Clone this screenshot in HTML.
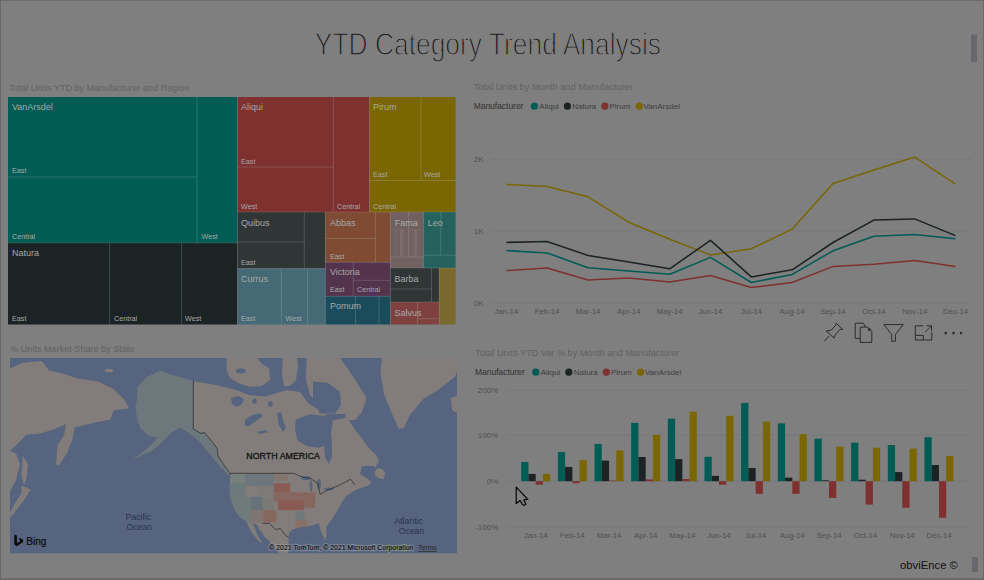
<!DOCTYPE html><html><head><meta charset="utf-8"><style>
html,body{margin:0;padding:0;width:984px;height:580px;overflow:hidden;background:#7f7f7f}
svg{position:absolute;left:0;top:0}
text{font-family:"Liberation Sans", sans-serif}
</style></head><body>
<svg width="984" height="580" viewBox="0 0 984 580">
<rect x="0" y="0" width="984" height="580" fill="#7f7f7f"/>

<rect x="0" y="0" width="984" height="1" fill="#6b6b6b"/>
<rect x="0" y="0" width="1" height="580" fill="#66686b"/>
<rect x="983" y="0" width="1" height="580" fill="#6b6b6b"/>
<rect x="0" y="578" width="984" height="2" fill="#6b6b6b"/>
<rect x="971" y="34.5" width="6" height="27.5" fill="#66686c"/>
<rect x="972" y="557" width="6" height="15" fill="#66686c"/>
<text x="314.8" y="55.4" font-size="31.8" fill="#141414" stroke="#7f7f7f" stroke-width="1.35" transform="translate(314.8 0) scale(0.83 1) translate(-314.8 0)">YTD Category Trend Analysis</text>
<text x="9" y="90.5" font-size="9.1" fill="#626262">Total Units YTD by Manufacturer and Region</text>
<text x="473.7" y="89.9" font-size="9.27" fill="#626262">Total Units by Month and Manufacturer</text>
<text x="10.2" y="351.5" font-size="9.1" fill="#626262">% Units Market Share by State</text>
<text x="475.1" y="356" font-size="9.14" fill="#626262">Total Units YTD Var % by Month and Manufacturer</text>
<g><rect x="8" y="97" width="229.50" height="146.00" fill="#005c55"/><line x1="197" y1="97" x2="197" y2="243" stroke="rgba(200,220,220,0.22)" stroke-width="0.9"/><line x1="8" y1="177" x2="197" y2="177" stroke="rgba(200,220,220,0.22)" stroke-width="0.9"/><rect x="8" y="243" width="229.50" height="81.50" fill="#1c2324"/><line x1="109.5" y1="243" x2="109.5" y2="324.5" stroke="rgba(200,220,220,0.22)" stroke-width="0.9"/><line x1="181.5" y1="243" x2="181.5" y2="324.5" stroke="rgba(200,220,220,0.22)" stroke-width="0.9"/><rect x="237.5" y="97" width="132.00" height="115.00" fill="#7e312f"/><line x1="333.3" y1="97" x2="333.3" y2="212" stroke="rgba(200,220,220,0.22)" stroke-width="0.9"/><line x1="237.5" y1="167" x2="333.3" y2="167" stroke="rgba(200,220,220,0.22)" stroke-width="0.9"/><rect x="369.5" y="97" width="86.10" height="115.00" fill="#7b6604"/><line x1="421" y1="97" x2="421" y2="180.5" stroke="rgba(200,220,220,0.22)" stroke-width="0.9"/><line x1="369.5" y1="180.5" x2="455.6" y2="180.5" stroke="rgba(200,220,220,0.22)" stroke-width="0.9"/><rect x="237.5" y="212" width="87.90" height="56.60" fill="#303636"/><line x1="304.3" y1="212" x2="304.3" y2="268.6" stroke="rgba(200,220,220,0.22)" stroke-width="0.9"/><line x1="237.5" y1="242" x2="304.3" y2="242" stroke="rgba(200,220,220,0.22)" stroke-width="0.9"/><rect x="237.5" y="268.6" width="87.90" height="55.90" fill="#456a76"/><line x1="281.4" y1="268.6" x2="281.4" y2="324.5" stroke="rgba(200,220,220,0.22)" stroke-width="0.9"/><line x1="307.6" y1="268.6" x2="307.6" y2="324.5" stroke="rgba(200,220,220,0.22)" stroke-width="0.9"/><rect x="325.4" y="212" width="65.00" height="50.30" fill="#7f4b33"/><line x1="375.4" y1="212" x2="375.4" y2="262.3" stroke="rgba(200,220,220,0.22)" stroke-width="0.9"/><line x1="325.4" y1="238.4" x2="375.4" y2="238.4" stroke="rgba(200,220,220,0.22)" stroke-width="0.9"/><rect x="325.4" y="262.3" width="65.00" height="33.90" fill="#53344c"/><line x1="353.2" y1="262.3" x2="353.2" y2="296.2" stroke="rgba(200,220,220,0.22)" stroke-width="0.9"/><line x1="353.2" y1="280.3" x2="390.4" y2="280.3" stroke="rgba(200,220,220,0.22)" stroke-width="0.9"/><rect x="325.4" y="296.2" width="65.00" height="28.30" fill="#1a4c5c"/><line x1="355.5" y1="296.2" x2="355.5" y2="324.5" stroke="rgba(200,220,220,0.22)" stroke-width="0.9"/><line x1="379" y1="296.2" x2="379" y2="324.5" stroke="rgba(200,220,220,0.22)" stroke-width="0.9"/><rect x="390.4" y="212" width="33.20" height="56.00" fill="#706060"/><line x1="408.7" y1="212" x2="408.7" y2="257.1" stroke="rgba(200,220,220,0.22)" stroke-width="0.9"/><line x1="390.4" y1="257.1" x2="423.6" y2="257.1" stroke="rgba(200,220,220,0.22)" stroke-width="0.9"/><rect x="399.9" y="229.7" width="3.6" height="26.3" fill="rgba(210,200,200,0.10)"/><rect x="413.9" y="229.7" width="3.1" height="26.3" fill="rgba(210,200,200,0.10)"/><line x1="396" y1="230" x2="396" y2="257.1" stroke="rgba(200,200,200,0.12)" stroke-width="0.6"/><line x1="401" y1="230" x2="401" y2="257.1" stroke="rgba(200,200,200,0.12)" stroke-width="0.6"/><line x1="404" y1="230" x2="404" y2="257.1" stroke="rgba(200,200,200,0.12)" stroke-width="0.6"/><line x1="412" y1="230" x2="412" y2="257.1" stroke="rgba(200,200,200,0.12)" stroke-width="0.6"/><line x1="416" y1="230" x2="416" y2="257.1" stroke="rgba(200,200,200,0.12)" stroke-width="0.6"/><line x1="419" y1="230" x2="419" y2="257.1" stroke="rgba(200,200,200,0.12)" stroke-width="0.6"/><line x1="390.4" y1="230" x2="423.6" y2="230" stroke="rgba(200,200,200,0.12)" stroke-width="0.6"/><line x1="390.4" y1="263" x2="423.6" y2="263" stroke="rgba(200,200,200,0.12)" stroke-width="0.6"/><rect x="423.6" y="212" width="32.00" height="56.00" fill="#25625e"/><line x1="440.8" y1="212" x2="440.8" y2="255.2" stroke="rgba(200,220,220,0.22)" stroke-width="0.9"/><line x1="423.6" y1="255.2" x2="455.6" y2="255.2" stroke="rgba(200,220,220,0.22)" stroke-width="0.9"/><rect x="390.4" y="268" width="48.80" height="34.00" fill="#303636"/><line x1="431.5" y1="268" x2="431.5" y2="302" stroke="rgba(200,220,220,0.22)" stroke-width="0.9"/><line x1="390.4" y1="289" x2="431.5" y2="289" stroke="rgba(200,220,220,0.22)" stroke-width="0.9"/><rect x="390.4" y="302" width="48.80" height="22.50" fill="#7e4140"/><line x1="417.5" y1="302" x2="417.5" y2="324.5" stroke="rgba(200,220,220,0.22)" stroke-width="0.9"/><line x1="417.5" y1="318.8" x2="439.2" y2="318.8" stroke="rgba(200,220,220,0.22)" stroke-width="0.9"/><rect x="439.2" y="268" width="16.40" height="56.50" fill="#7a692d"/><line x1="8" y1="243" x2="237.5" y2="243" stroke="rgba(200,200,200,0.2)" stroke-width="0.9"/><line x1="237.5" y1="97" x2="237.5" y2="324.5" stroke="rgba(200,200,200,0.2)" stroke-width="0.9"/><line x1="369.5" y1="97" x2="369.5" y2="212" stroke="rgba(200,200,200,0.2)" stroke-width="0.9"/><line x1="237.5" y1="212" x2="455.6" y2="212" stroke="rgba(200,200,200,0.2)" stroke-width="0.9"/><line x1="325.4" y1="212" x2="325.4" y2="324.5" stroke="rgba(200,200,200,0.2)" stroke-width="0.9"/><line x1="237.5" y1="268.6" x2="325.4" y2="268.6" stroke="rgba(200,200,200,0.2)" stroke-width="0.9"/><line x1="325.4" y1="262.3" x2="390.4" y2="262.3" stroke="rgba(200,200,200,0.2)" stroke-width="0.9"/><line x1="325.4" y1="296.2" x2="390.4" y2="296.2" stroke="rgba(200,200,200,0.2)" stroke-width="0.9"/><line x1="390.4" y1="212" x2="390.4" y2="324.5" stroke="rgba(200,200,200,0.2)" stroke-width="0.9"/><line x1="423.6" y1="212" x2="423.6" y2="268" stroke="rgba(200,200,200,0.2)" stroke-width="0.9"/><line x1="390.4" y1="268" x2="455.6" y2="268" stroke="rgba(200,200,200,0.2)" stroke-width="0.9"/><line x1="390.4" y1="302" x2="439.2" y2="302" stroke="rgba(200,200,200,0.2)" stroke-width="0.9"/><line x1="439.2" y1="268" x2="439.2" y2="324.5" stroke="rgba(200,200,200,0.2)" stroke-width="0.9"/><text x="12" y="110" font-size="9" fill="#a8a8a8">VanArsdel</text><text x="12" y="173" font-size="7.2" fill="#a8a8a8">East</text><text x="12" y="239" font-size="7.2" fill="#a8a8a8">Central</text><text x="201.5" y="239" font-size="7.2" fill="#a8a8a8">West</text><text x="12" y="256" font-size="9" fill="#a8a8a8">Natura</text><text x="12" y="321" font-size="7.2" fill="#a8a8a8">East</text><text x="114" y="321" font-size="7.2" fill="#a8a8a8">Central</text><text x="185" y="321" font-size="7.2" fill="#a8a8a8">West</text><text x="241" y="110" font-size="9" fill="#a8a8a8">Aliqui</text><text x="241" y="163.5" font-size="7.2" fill="#a8a8a8">East</text><text x="241" y="208.5" font-size="7.2" fill="#a8a8a8">West</text><text x="337" y="208.5" font-size="7.2" fill="#a8a8a8">Central</text><text x="373" y="110" font-size="9" fill="#a8a8a8">Pirum</text><text x="373" y="176.5" font-size="7.2" fill="#a8a8a8">East</text><text x="424" y="176.5" font-size="7.2" fill="#a8a8a8">West</text><text x="373" y="208.5" font-size="7.2" fill="#a8a8a8">Central</text><text x="241" y="225.5" font-size="9" fill="#a8a8a8">Quibus</text><text x="241" y="264.5" font-size="7.2" fill="#a8a8a8">East</text><text x="241" y="281.5" font-size="9" fill="#a8a8a8">Currus</text><text x="241" y="321" font-size="7.2" fill="#a8a8a8">East</text><text x="285.6" y="321" font-size="7.2" fill="#a8a8a8">West</text><text x="330" y="225.5" font-size="9" fill="#a8a8a8">Abbas</text><text x="330" y="258.5" font-size="7.2" fill="#a8a8a8">East</text><text x="330" y="274.5" font-size="9" fill="#a8a8a8">Victoria</text><text x="330" y="292" font-size="7.2" fill="#a8a8a8">East</text><text x="357" y="292" font-size="7.2" fill="#a8a8a8">Central</text><text x="330" y="309" font-size="9" fill="#a8a8a8">Pomum</text><text x="394.8" y="225.5" font-size="9" fill="#a8a8a8">Fama</text><text x="427.8" y="225.5" font-size="9" fill="#a8a8a8">Leo</text><text x="394.5" y="281.5" font-size="9" fill="#a8a8a8">Barba</text><text x="394.5" y="315.5" font-size="9" fill="#a8a8a8">Salvus</text></g>
<g><line x1="491" y1="159.2" x2="971.7" y2="159.2" stroke="#76787c" stroke-width="1"/><text x="473.7" y="162.1" font-size="8" fill="#505050">2K</text><line x1="491" y1="230.9" x2="971.7" y2="230.9" stroke="#76787c" stroke-width="1"/><text x="473.7" y="233.8" font-size="8" fill="#505050">1K</text><line x1="491" y1="302.9" x2="971.7" y2="302.9" stroke="#76787c" stroke-width="1"/><text x="473.7" y="305.79999999999995" font-size="8" fill="#505050">0K</text><text x="506.3" y="313.6" font-size="7.8" fill="#505050" text-anchor="middle">Jan-14</text><text x="547.1" y="313.6" font-size="7.8" fill="#505050" text-anchor="middle">Feb-14</text><text x="588.0" y="313.6" font-size="7.8" fill="#505050" text-anchor="middle">Mar-14</text><text x="628.8" y="313.6" font-size="7.8" fill="#505050" text-anchor="middle">Apr-14</text><text x="669.7" y="313.6" font-size="7.8" fill="#505050" text-anchor="middle">May-14</text><text x="710.5" y="313.6" font-size="7.8" fill="#505050" text-anchor="middle">Jun-14</text><text x="751.3" y="313.6" font-size="7.8" fill="#505050" text-anchor="middle">Jul-14</text><text x="792.2" y="313.6" font-size="7.8" fill="#505050" text-anchor="middle">Aug-14</text><text x="833.0" y="313.6" font-size="7.8" fill="#505050" text-anchor="middle">Sep-14</text><text x="873.9" y="313.6" font-size="7.8" fill="#505050" text-anchor="middle">Oct-14</text><text x="914.7" y="313.6" font-size="7.8" fill="#505050" text-anchor="middle">Nov-14</text><text x="955.5" y="313.6" font-size="7.8" fill="#505050" text-anchor="middle">Dec-14</text><polyline points="506.3,270.6 547.1,268.1 588.0,279.9 628.8,278 669.7,282.1 710.5,275.4 751.3,287.5 792.2,282.5 833.0,266.4 873.9,264.2 914.7,260.5 955.5,266.4" fill="none" stroke="#7e312f" stroke-width="1.55" stroke-linejoin="round"/><polyline points="506.3,250.5 547.1,252.9 588.0,267.8 628.8,271 669.7,274.3 710.5,257.4 751.3,282.5 792.2,274.4 833.0,250.8 873.9,236.2 914.7,234.4 955.5,238.7" fill="none" stroke="#005c55" stroke-width="1.55" stroke-linejoin="round"/><polyline points="506.3,184.4 547.1,186.5 588.0,196.8 628.8,222.2 669.7,239.3 710.5,254.9 751.3,248.7 792.2,229.1 833.0,183.5 873.9,170.1 914.7,157.1 955.5,184.1" fill="none" stroke="#7b6604" stroke-width="1.55" stroke-linejoin="round"/><polyline points="506.3,242.4 547.1,241.5 588.0,255.4 628.8,262 669.7,268.8 710.5,240.3 751.3,276.9 792.2,269.8 833.0,242.5 873.9,220.1 914.7,218.9 955.5,235.6" fill="none" stroke="#1c2324" stroke-width="1.55" stroke-linejoin="round"/><text x="473.7" y="109.10000000000001" font-size="8.45" fill="#3a3a3a" stroke="#3a3a3a" stroke-width="0.12">Manufacturer</text><circle cx="534.4" cy="106.2" r="3.6" fill="#005c55"/><text x="539.3" y="109.10000000000001" font-size="8" fill="#3e3e3e">Aliqui</text><circle cx="567.4" cy="106.2" r="3.6" fill="#1c2324"/><text x="572.3" y="109.10000000000001" font-size="8" fill="#3e3e3e">Natura</text><circle cx="604.9" cy="106.2" r="3.6" fill="#7e312f"/><text x="609.5" y="109.10000000000001" font-size="8" fill="#3e3e3e">Pirum</text><circle cx="639.25" cy="106.2" r="3.6" fill="#7b6604"/><text x="643.6" y="109.10000000000001" font-size="8" fill="#3e3e3e">VanArsdel</text></g>
<g fill="none" stroke="#2c2c2c" stroke-width="1.0" stroke-linejoin="miter">
<path d="M836.2,323.2 L842.6,329.3 L840.1,329.3 L835.6,334.2 L834.3,338.1 L826.1,331.1 L831.3,330.2 L835.6,325.3 Z"/>
<path d="M829.2,336 L824,341.5"/>
<path d="M860.2,338.4 H855.2 V323.2 H863.3 L865.7,327.1"/>
<path d="M860.2,327.1 H867.6 L871.8,331.4 V342.4 H860.2 Z"/>
<path d="M883.9,324.6 H903.2 L895.4,334.5 V341.3 H891.7 V334.5 Z"/>
<path d="M923,325.8 H915.3 V340 H931.8 V332"/>
<path d="M915.3,335.4 H923.3 V340"/>
<path d="M925.1,332.2 L931.5,325.8 M926.5,325.8 H931.5 V330.8"/>
</g>
<rect x="867.8" y="328.2" width="2.8" height="2.8" fill="#2c2c2c" opacity="0.8"/>
<circle cx="945.7" cy="333.1" r="1.3" fill="#2c2c2c"/>
<circle cx="953.5" cy="333.1" r="1.3" fill="#2c2c2c"/>
<circle cx="961.1" cy="333.1" r="1.3" fill="#2c2c2c"/>

<g><line x1="506.6" y1="390.3" x2="967.4" y2="390.3" stroke="#76787c" stroke-width="1"/><text x="498.3" y="393.2" font-size="8" fill="#505050" text-anchor="end">200%</text><line x1="506.6" y1="435.0" x2="967.4" y2="435.0" stroke="#76787c" stroke-width="1"/><text x="498.3" y="437.9" font-size="8" fill="#505050" text-anchor="end">100%</text><line x1="506.6" y1="481.2" x2="967.4" y2="481.2" stroke="#76787c" stroke-width="1"/><text x="498.3" y="484.09999999999997" font-size="8" fill="#505050" text-anchor="end">0%</text><line x1="506.6" y1="526.9" x2="967.4" y2="526.9" stroke="#76787c" stroke-width="1"/><text x="498.3" y="529.8" font-size="8" fill="#505050" text-anchor="end">-100%</text><text x="535.7" y="537.6" font-size="7.8" fill="#505050" text-anchor="middle">Jan-14</text><text x="572.4" y="537.6" font-size="7.8" fill="#505050" text-anchor="middle">Feb-14</text><text x="609.0" y="537.6" font-size="7.8" fill="#505050" text-anchor="middle">Mar-14</text><text x="645.7" y="537.6" font-size="7.8" fill="#505050" text-anchor="middle">Apr-14</text><text x="682.3" y="537.6" font-size="7.8" fill="#505050" text-anchor="middle">May-14</text><text x="719.0" y="537.6" font-size="7.8" fill="#505050" text-anchor="middle">Jun-14</text><text x="755.7" y="537.6" font-size="7.8" fill="#505050" text-anchor="middle">Jul-14</text><text x="792.3" y="537.6" font-size="7.8" fill="#505050" text-anchor="middle">Aug-14</text><text x="829.0" y="537.6" font-size="7.8" fill="#505050" text-anchor="middle">Sep-14</text><text x="865.6" y="537.6" font-size="7.8" fill="#505050" text-anchor="middle">Oct-14</text><text x="902.3" y="537.6" font-size="7.8" fill="#505050" text-anchor="middle">Nov-14</text><text x="939.0" y="537.6" font-size="7.8" fill="#505050" text-anchor="middle">Dec-14</text><rect x="521.20" y="462.00" width="7.25" height="19.20" fill="#005c55"/><rect x="557.86" y="452.10" width="7.25" height="29.10" fill="#005c55"/><rect x="594.52" y="443.90" width="7.25" height="37.30" fill="#005c55"/><rect x="631.18" y="422.90" width="7.25" height="58.30" fill="#005c55"/><rect x="667.84" y="418.60" width="7.25" height="62.60" fill="#005c55"/><rect x="704.50" y="456.80" width="7.25" height="24.40" fill="#005c55"/><rect x="741.16" y="402.90" width="7.25" height="78.30" fill="#005c55"/><rect x="777.82" y="423.40" width="7.25" height="57.80" fill="#005c55"/><rect x="814.48" y="438.60" width="7.25" height="42.60" fill="#005c55"/><rect x="851.14" y="442.70" width="7.25" height="38.50" fill="#005c55"/><rect x="887.80" y="445.10" width="7.25" height="36.10" fill="#005c55"/><rect x="924.46" y="437.20" width="7.25" height="44.00" fill="#005c55"/><rect x="528.45" y="473.90" width="7.25" height="7.30" fill="#1c2324"/><rect x="565.11" y="466.90" width="7.25" height="14.30" fill="#1c2324"/><rect x="601.77" y="460.60" width="7.25" height="20.60" fill="#1c2324"/><rect x="638.43" y="457.00" width="7.25" height="24.20" fill="#1c2324"/><rect x="675.09" y="459.10" width="7.25" height="22.10" fill="#1c2324"/><rect x="711.75" y="475.90" width="7.25" height="5.30" fill="#1c2324"/><rect x="748.41" y="468.00" width="7.25" height="13.20" fill="#1c2324"/><rect x="785.07" y="477.60" width="7.25" height="3.60" fill="#1c2324"/><rect x="821.73" y="480.30" width="7.25" height="0.90" fill="#1c2324"/><rect x="858.39" y="479.70" width="7.25" height="1.50" fill="#1c2324"/><rect x="895.05" y="472.10" width="7.25" height="9.10" fill="#1c2324"/><rect x="931.71" y="465.00" width="7.25" height="16.20" fill="#1c2324"/><rect x="535.70" y="481.20" width="7.25" height="3.50" fill="#7e312f"/><rect x="572.36" y="481.20" width="7.25" height="2.00" fill="#7e312f"/><rect x="609.02" y="480.50" width="7.25" height="0.70" fill="#7e312f"/><rect x="645.68" y="479.40" width="7.25" height="1.80" fill="#7e312f"/><rect x="682.34" y="479.00" width="7.25" height="2.20" fill="#7e312f"/><rect x="719.00" y="481.20" width="7.25" height="3.50" fill="#7e312f"/><rect x="755.66" y="481.20" width="7.25" height="12.60" fill="#7e312f"/><rect x="792.32" y="481.20" width="7.25" height="12.60" fill="#7e312f"/><rect x="828.98" y="481.20" width="7.25" height="16.70" fill="#7e312f"/><rect x="865.64" y="481.20" width="7.25" height="23.40" fill="#7e312f"/><rect x="902.30" y="481.20" width="7.25" height="26.60" fill="#7e312f"/><rect x="938.96" y="481.20" width="7.25" height="36.60" fill="#7e312f"/><rect x="542.95" y="473.90" width="7.25" height="7.30" fill="#7b6604"/><rect x="579.61" y="460.20" width="7.25" height="21.00" fill="#7b6604"/><rect x="616.27" y="450.40" width="7.25" height="30.80" fill="#7b6604"/><rect x="652.93" y="434.90" width="7.25" height="46.30" fill="#7b6604"/><rect x="689.59" y="411.70" width="7.25" height="69.50" fill="#7b6604"/><rect x="726.25" y="415.80" width="7.25" height="65.40" fill="#7b6604"/><rect x="762.91" y="421.60" width="7.25" height="59.60" fill="#7b6604"/><rect x="799.57" y="434.20" width="7.25" height="47.00" fill="#7b6604"/><rect x="836.23" y="446.60" width="7.25" height="34.60" fill="#7b6604"/><rect x="872.89" y="447.70" width="7.25" height="33.50" fill="#7b6604"/><rect x="909.55" y="448.60" width="7.25" height="32.60" fill="#7b6604"/><rect x="946.21" y="455.90" width="7.25" height="25.30" fill="#7b6604"/><text x="475.1" y="375.09999999999997" font-size="8.45" fill="#3a3a3a" stroke="#3a3a3a" stroke-width="0.12">Manufacturer</text><circle cx="535.8" cy="372.2" r="3.6" fill="#005c55"/><text x="540.7" y="375.09999999999997" font-size="8" fill="#3e3e3e">Aliqui</text><circle cx="568.8" cy="372.2" r="3.6" fill="#1c2324"/><text x="573.7" y="375.09999999999997" font-size="8" fill="#3e3e3e">Natura</text><circle cx="606.3" cy="372.2" r="3.6" fill="#7e312f"/><text x="610.9000000000001" y="375.09999999999997" font-size="8" fill="#3e3e3e">Pirum</text><circle cx="640.6500000000001" cy="372.2" r="3.6" fill="#7b6604"/><text x="645.0" y="375.09999999999997" font-size="8" fill="#3e3e3e">VanArsdel</text></g>
<path d="M516.2,487.2 L516.2,503.5 L520.1,500.5 L522.5,504.7 L524.3,505.3 L525.8,504.1 L523.7,499.9 L527.9,499.3 Z" fill="#7f7f7f" stroke="#000" stroke-width="1.15" stroke-linejoin="round"/>
<text x="900" y="568.5" font-size="11.3" fill="#111">obviEnce ©</text>
<g>
<defs><clipPath id="mc"><rect x="10" y="358" width="447" height="195.5"/></clipPath></defs>
<g clip-path="url(#mc)">
<rect x="10" y="358" width="447" height="195.5" fill="#56647f"/>
<g fill="#827d7a">
<!-- Russia -->
<path d="M10,368.5 L22.8,362.8 L41.7,360.9 L49.3,370.4 L63.8,373.7 L75.9,378 L98.7,381.7 L113.9,389.3 L125.2,400.7 L129,408.3 L113.9,410.2 L110.1,419.7 L100,421.4 L77.5,426.7 L74.9,426.7 L72.2,440.1 L66.8,453.5 L58.8,465.5 L56.1,464.2 L57.5,445.5 L64.2,434.8 L66,424 L53.5,429.4 L40.1,433.4 L26.7,434.8 L16,445.5 L9.9,450.8 L16,453.5 L20,464.2 L16,480.2 L10,491 Z"/>
<ellipse cx="109" cy="370.5" rx="4.5" ry="1.8"/>
<path d="M22.7,456 L28,464 L26.7,477.5 L24,485.6 L21.4,474.9 L22.5,464 Z"/>
<path d="M21.4,485.6 L30.7,489.6 L26.7,496.3 L18.7,507 L10.7,517.6 L10,512.3 L16,501.6 L21.4,493.6 Z"/>
<!-- NA mainland -->
<path d="M193.3,381 L206.5,383.5 L216,385 L236,390 L249,395 L265.5,396.4 L277,393 L286.7,390 L300,392 L308,403 L319,410 L335,409 L346,414 L350,422 L355,430 L361,437 L368,447 L376.9,455.9 L379,461.4 L375.5,466.9 L368,470 L364,476 L371.4,482 L368.6,485.5 L357.6,489 L346,496 L341.5,503 L337.5,510.5 L331.5,520 L326.4,526.4 L326.4,535 L325.5,539.6 L324.7,540 L320.8,531.1 L318.8,523.2 L312.8,525.2 L301,527.2 L293,529.2 L289,533.1 L288.8,537.6 L287.8,555 L280.6,555 L272.5,544.7 L264.4,536.6 L256.3,524.4 L252,523 L246.1,521.3 L240,517.3 L235.6,511.3 L230.6,499.4 L229.6,487.6 L230.6,475.7 L230.6,474.5 L224,465 L218,456 L217.4,449 L213.1,442.9 L204.5,432.6 L201,433.4 L193.3,429.1 Z"/>
<path d="M374.1,469.7 L380,468 L385.2,472 L384,479.3 L378,478 L375,475 Z"/>
<path d="M246.1,521.3 L252.2,533.5 L259.5,542 L262,543 L257,534 L254.5,527 L252,523 Z"/>
<!-- arctic islands -->
<path d="M226.6,358 L257,358 L262,364 L269,368 L270,380 L262,386 L250,387 L238,383 L230,378 L226.6,370 Z"/>
<path d="M282.7,358 L297,358 L298,366 L296,380 L290,386 L284,386 L282,375 Z"/>
<path d="M306.6,358 L340,358 L348,369 L356,381 L366.5,398 L362,412 L355,420 L340,420 L325,413 L310,395 L306,380 Z"/>

<!-- Greenland -->
<path d="M382,358 L457,358 L457,372 L454.8,377 L437,390.7 L423.3,398.9 L409.5,415.4 L404,427.7 L398.6,429.1 L396.1,423.1 L389.1,407.3 L383.8,393.2 L380.3,372.1 Z"/>
<path d="M451,398 L457,396 L457,413 L452,410 Z"/>
</g>
<g fill="#56647f">
<path d="M295.8,419.6 L309.9,414.3 L325.7,416.1 L332.8,421.3 L331,431.9 L332,445 L332,456 L329,464 L325,457 L324,446 L318.7,447.7 L306.4,446 L297.6,440.7 L295,430.1 Z"/>
<path d="M325,414 L346,414 L345,418 L330,421 Z"/>
<path d="M362,466 L374,466 L376,470 L372,476 L366,478 L360,474 Z"/>
<path d="M231,398 L238,396 L244,399 L242,404 L236,407 L232,404 Z"/>
<path d="M245,420 L252,415 L260,413 L263,416 L256,421 L249,426 L245,426 Z"/>
<path d="M257,432 L266,430 L268,432 L260,434 Z"/>
<path d="M277,413 L281,412 L283,420 L286,428 L283,432 L279,425 Z"/>
<path d="M252,400 L256,398 L257,403 L253,404 Z"/>
<path d="M268,402 L272,401 L273,406 L269,407 Z"/>
<ellipse cx="306" cy="478" rx="5" ry="2"/>
<ellipse cx="241" cy="371" rx="5" ry="2.5"/>
<path d="M313,381.5 L328,383 L340,392 L341,405 L335,413.4 L320,413.4 L313,400 Z"/>
<ellipse cx="311" cy="486" rx="1.5" ry="6"/>
<ellipse cx="319" cy="484" rx="2" ry="5"/>
<ellipse cx="329" cy="489" rx="5" ry="1.5"/>
</g>
<!-- Alaska (highlighted) -->
<path fill="#6c787c" d="M137.2,387.8 L145.9,377.4 L159.7,370.5 L171.7,374.8 L182.1,377.4 L193.3,380.9 L193.3,429.1 L201,433.4 L204.5,432.6 L213.1,442.9 L217.4,449 L218,456 L224,465 L230.6,474.5 L228,475 L220.8,467.4 L210.4,455.1 L199,440.9 L190,434 L180.3,427.4 L171.7,432.6 L161.4,442.9 L151,451.6 L142.4,455 L131.6,460 L140.9,453.2 L147.6,448.1 L157.9,437.8 L149.3,436 L140.7,429.1 L137.2,420.5 L135.5,406.7 L137.2,398.1 Z"/>
<clipPath id="us"><path d="M230.5,473.3 L293.3,473.3 L303,477.2 L310.4,478.4 L317.7,483.3 L320.1,494.3 L328.7,489.4 L338.4,485.7 L350.7,479.3 L354.8,484.8 L346,496 L341.5,503 L337.5,510.5 L331.5,520 L326.4,526.4 L318.8,523.2 L312.8,525.2 L301,527.2 L293,529.2 L288.8,537.6 L284.7,534.6 L280.6,528.5 L275.6,529.5 L269.5,523.4 L262.4,523.4 L246.1,521.3 L240,517.3 L235.6,511.3 L230.6,499.4 L229.6,487.6 L230.6,475.7 Z"/></clipPath>
<g clip-path="url(#us)">
<rect x="229.9" y="473.5" width="15.2" height="9.8" fill="#76807f"/>
<rect x="245.1" y="473.5" width="28.7" height="12.2" fill="#6c767c"/>
<rect x="273.8" y="473.5" width="14.6" height="7.4" fill="#83766e"/>
<rect x="273.8" y="483.3" width="16.4" height="9.1" fill="#8a5a55"/>
<rect x="230" y="483.3" width="15" height="14" fill="#6d7a7b"/>
<rect x="231" y="497" width="20" height="25" fill="#6f7b7b"/>
<rect x="257.9" y="485.7" width="15.9" height="11" fill="#7d7b7a"/>
<rect x="251.2" y="496.7" width="11.6" height="13.4" fill="#687378"/>
<rect x="262.8" y="497.9" width="11" height="12.2" fill="#7a7977"/>
<rect x="273.8" y="492.4" width="41.4" height="9.2" fill="#86665f"/>
<rect x="278" y="500.4" width="26.3" height="9.7" fill="#8a5a55"/>
<rect x="304.3" y="493" width="10.9" height="14.7" fill="#86665f"/>
<rect x="250.6" y="510.1" width="12.2" height="12.2" fill="#7f7572"/>
<rect x="263.4" y="510.1" width="12.8" height="12.2" fill="#86665f"/>
<rect x="295.7" y="511.3" width="8.6" height="8.6" fill="#6e7a7a"/>
<rect x="295.7" y="519.9" width="11" height="9.7" fill="#867068"/>
</g>
<g fill="none" stroke="#2a2a2a" stroke-width="0.7">
<path d="M193.3,380.9 L193.3,429.1 L201,433.4 L204.5,432.6 L213.1,442.9 L217.4,449 L218,456 L224,465 L230.6,474.5"/>
<path d="M230.5,473.3 L293.3,473.3 L303,477.2 L310.4,478.4 L317.7,483.3 L320.1,494.3 L328.7,489.4 L338.4,485.7 L350.7,479.3 L354.8,484.8"/>
<path d="M262.4,523.4 L269.5,523.4 L275.6,529.5 L280.6,528.5 L284.7,534.6 L288.8,537.6"/>
</g>
<text x="246.3" y="458.6" font-size="9.6" fill="#111" stroke="#111" stroke-width="0.3" transform="translate(246.3 0) scale(0.925 1) translate(-246.3 0)">NORTH AMERICA</text>
<text x="125.6" y="519.7" font-size="8.7" fill="#2b3550">Pacific</text>
<text x="126.5" y="529.7" font-size="8.7" fill="#2b3550">Ocean</text>
<text x="394.4" y="524.3" font-size="8.7" fill="#2b3550">Atlantic</text>
<text x="398.7" y="534.2" font-size="8.7" fill="#2b3550">Ocean</text>
<text x="269.3" y="550" font-size="6.9" fill="none" stroke="rgba(175,178,185,0.4)" stroke-width="2.6" stroke-linejoin="round">© 2021 TomTom, © 2021 Microsoft Corporation</text>
<text x="269.3" y="550" font-size="6.9" fill="#151515" stroke="#151515" stroke-width="0.2">© 2021 TomTom, © 2021 Microsoft Corporation</text>
<text x="418" y="550" font-size="6.9" fill="#2a2a2a" text-decoration="underline">Terms</text>
<path d="M14.3,534.6 L16.9,535.5 L16.9,543.2 L20.2,541.3 L18.6,537.8 L23.1,539.6 L23.1,542.1 L16.9,546.2 L14.3,544.6 Z" fill="#0a0a0a"/>
<text x="26.3" y="545" font-size="10" fill="#0a0a0a" stroke="#0a0a0a" stroke-width="0.2">Bing</text>
</g>
</g>

</svg></body></html>
